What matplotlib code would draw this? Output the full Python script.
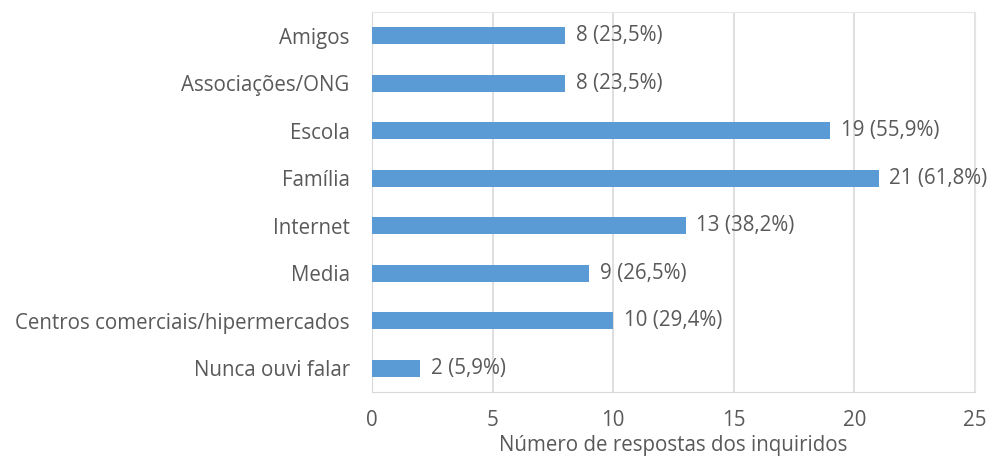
import matplotlib.pyplot as plt

categories = ['Amigos', 'Associações/ONG', 'Escola', 'Família', 'Internet', 'Media',
              'Centros comerciais/hipermercados', 'Nunca ouvi falar']
counts = [8, 8, 19, 21, 13, 9, 10, 2]
percents = ['23,5', '23,5', '55,9', '61,8', '38,2', '26,5', '29,4', '5,9']
xticks = [0, 5, 10, 15, 20, 25]

plt.rcParams['font.family'] = ['Open Sans', 'DejaVu Sans']
text_color = '#595959'
fs = 14.8

fig = plt.figure(figsize=(9.98, 4.61), dpi=100)
ax = fig.add_axes([0.3727, 0.150, 0.6043, 0.824])

ypos = list(range(len(categories)))[::-1]
ax.barh(ypos, counts, height=0.36, color='#5B9BD5', zorder=3)
for y, c, p in zip(ypos, counts, percents):
    ax.text(c + 0.45, y, f'{c} ({p}%)', va='center', ha='left', fontsize=fs, color=text_color)

ax.set_xlim(0, 25)
ax.set_ylim(-0.5, len(categories) - 0.5)
ax.set_xticks(xticks)
ax.set_yticks(ypos)
ax.set_yticklabels(categories)
ax.tick_params(axis='both', length=0, labelsize=fs, labelcolor=text_color)
ax.tick_params(axis='x', pad=13)
ax.tick_params(axis='y', pad=16)
ax.grid(axis='x', color='#D9D9D9', linewidth=1.2, zorder=0)
for s in ax.spines.values():
    s.set_color('#E6E6E6')
ax.spines['bottom'].set_color('#D9D9D9')
ax.spines['left'].set_color('#D9D9D9')
ax.set_xlabel('Número de respostas dos inquiridos', fontsize=fs, color=text_color, labelpad=3)

fig.savefig('out.png', dpi=100)
